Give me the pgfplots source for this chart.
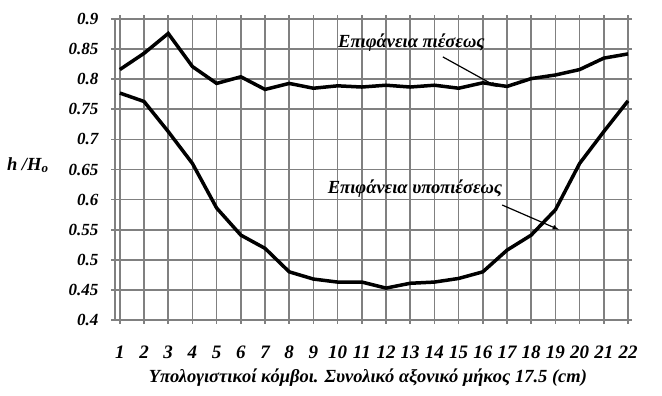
\documentclass[border=0pt]{standalone}
\usepackage{fontspec}
\setmainfont{Liberation Serif}
\usepackage{pgfplots}
\pgfplotsset{compat=1.18}
\newcommand{\lblfont}{\fontsize{18.5}{21}\selectfont\bfseries\itshape}
\newcommand{\yf}{\fontsize{17}{20}\selectfont\bfseries\itshape}
\newcommand{\xf}{\fontsize{19}{22}\selectfont\bfseries\itshape}
\begin{document}
\begin{tikzpicture}[x=1pt,y=1pt]
\begin{axis}[
 at={(0,0)}, anchor=south west,
 scale only axis, width=513pt, height=301pt,
 xmin=0.8, xmax=22, ymin=0.4, ymax=0.9,
 xtick={1,2,3,4,5,6,7,8,9,10,11,12,13,14,15,16,17,18,19,20,21,22},
 xticklabels={{\xf 1},{\xf 2},{\xf 3},{\xf 4},{\xf 5},{\xf 6},{\xf 7},{\xf 8},{\xf 9},{\xf 10},{\xf 11},{\xf 12},{\xf 13},{\xf 14},{\xf 15},{\xf 16},{\xf 17},{\xf 18},{\xf 19},{\xf 20},{\xf 21},{\xf 22}},
 ytick={0.4,0.45,0.5,0.55,0.6,0.65,0.7,0.75,0.8,0.85,0.9},
 yticklabels={{\yf 0.4},{\yf 0.45},{\yf 0.5},{\yf 0.55},{\yf 0.6},{\yf 0.65},{\yf 0.7},{\yf 0.75},{\yf 0.8},{\yf 0.85},{\yf 0.9}},
 grid=major, grid style={black!50, line width=1.7pt},
 axis line style={black!50, line width=1.7pt},
 tick style={black!50, line width=1.7pt},
 tick align=outside, major tick length=4pt,
 xticklabel style={anchor=center, yshift=-28pt},
 yticklabel style={anchor=east, xshift=-9pt},
 xlabel={Υπολογιστικοί κόμβοι. Συνολικό αξονικό μήκος 17.5 (cm)},
 xlabel style={font=\lblfont, at={(rel axis cs:0.493,0)}, anchor=center, yshift=-58pt},
 clip=false,
]
\addplot[black, line width=3.5pt] coordinates {
(1,0.816) (2,0.843) (3,0.876) (4,0.821) (5,0.793) (6,0.804) (7,0.783) (8,0.793)
(9,0.785) (10,0.789) (11,0.787) (12,0.790) (13,0.787) (14,0.790) (15,0.785)
(16,0.794) (17,0.788) (18,0.801) (19,0.807) (20,0.816) (21,0.835) (22,0.842)};
\addplot[black, line width=3.5pt] coordinates {
(1,0.777) (2,0.763) (3,0.713) (4,0.660) (5,0.586) (6,0.541) (7,0.519) (8,0.480)
(9,0.468) (10,0.463) (11,0.463) (12,0.453) (13,0.461) (14,0.463) (15,0.469)
(16,0.480) (17,0.516) (18,0.541) (19,0.583) (20,0.660) (21,0.713) (22,0.764)};
\node[font=\lblfont] at (axis cs:13.05,0.860) {Επιφάνεια πιέσεως};
\draw[-latex, line width=1.2pt] (axis cs:14.35,0.837) -- (axis cs:16.6,0.787);
\node[font=\lblfont] at (axis cs:13.2,0.619) {Επιφάνεια υποπιέσεως};
\draw[-latex, line width=1.2pt] (axis cs:16.8,0.591) -- (axis cs:19.15,0.550);
\node[font=\lblfont] at (rel axis cs:-0.170,0.515) {h /H\textsubscript{o}};
\end{axis}
\pgfresetboundingbox
\path (-115,-76) rectangle (547,320);
\end{tikzpicture}
\end{document}
